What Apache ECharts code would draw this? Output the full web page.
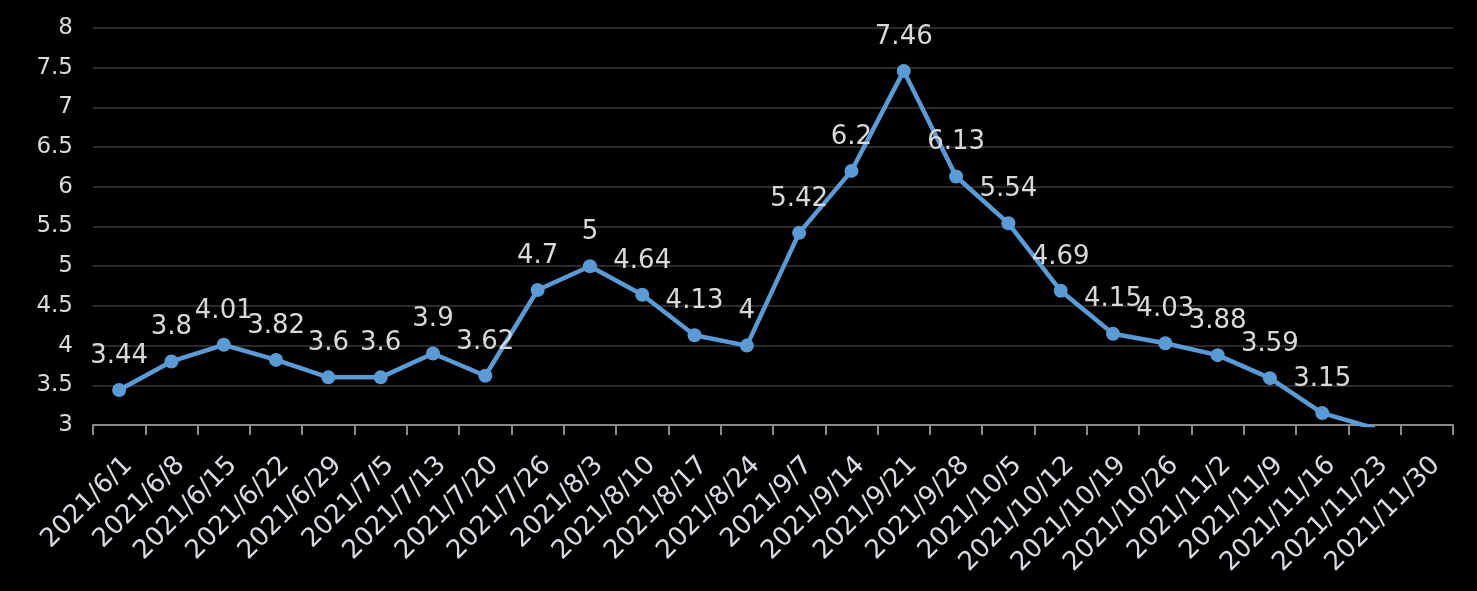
<!DOCTYPE html>
<html>
<head>
<meta charset="utf-8">
<script src="https://cdn.jsdelivr.net/npm/echarts@6/dist/echarts.min.js"></script>
<style>
html,body{margin:0;padding:0;background:#000;}
#chart{width:1477px;height:591px;}
</style>
</head>
<body>
<div id="chart"></div>
<script>
var categories = ["2021/6/1","2021/6/8","2021/6/15","2021/6/22","2021/6/29","2021/7/5","2021/7/13","2021/7/20","2021/7/26","2021/8/3","2021/8/10","2021/8/17","2021/8/24","2021/9/7","2021/9/14","2021/9/21","2021/9/28","2021/10/5","2021/10/12","2021/10/19","2021/10/26","2021/11/2","2021/11/9","2021/11/16","2021/11/23","2021/11/30"];
var values = [3.44,3.8,4.01,3.82,3.6,3.6,3.9,3.62,4.7,5,4.64,4.13,4,5.42,6.2,7.46,6.13,5.54,4.69,4.15,4.03,3.88,3.59,3.15,2.96,null];
var yMin = 3, yMax = 8, yStep = 0.5;

var chart = echarts.init(document.getElementById('chart'));
chart.setOption({
  backgroundColor: '#000000',
  animation: false,
  grid: {left: 93, right: 24, top: 28, bottom: 166, containLabel: false},
  xAxis: {
    type: 'category',
    data: categories,
    boundaryGap: true,
    axisLine: {lineStyle: {color: '#8a8a8a', width: 2}},
    axisTick: {show: true, length: 10, alignWithLabel: false, lineStyle: {color: '#8a8a8a', width: 2}},
    axisLabel: {rotate: 45, interval: 0, margin: 27, verticalAlign: 'top', color: '#d9dbe2', fontFamily: 'DejaVu Sans', fontSize: 26}
  },
  yAxis: {
    type: 'value',
    min: yMin, max: yMax, interval: yStep,
    axisLine: {show: false},
    axisTick: {show: false},
    axisLabel: {margin: 20, color: '#d9d9d9', fontFamily: 'DejaVu Sans', fontSize: 23},
    splitLine: {lineStyle: {color: '#2b2b2b', width: 2}}
  },
  series: [{
    type: 'line',
    data: values,
    clip: true,
    connectNulls: false,
    symbol: 'circle',
    symbolSize: 14,
    lineStyle: {color: '#5b9bd5', width: 4.5},
    itemStyle: {color: '#5b9bd5'},
    label: {show: true, position: 'top', distance: 14, color: '#d9d9d9', fontFamily: 'DejaVu Sans', fontSize: 26}
  }]
});
</script>
</body>
</html>
